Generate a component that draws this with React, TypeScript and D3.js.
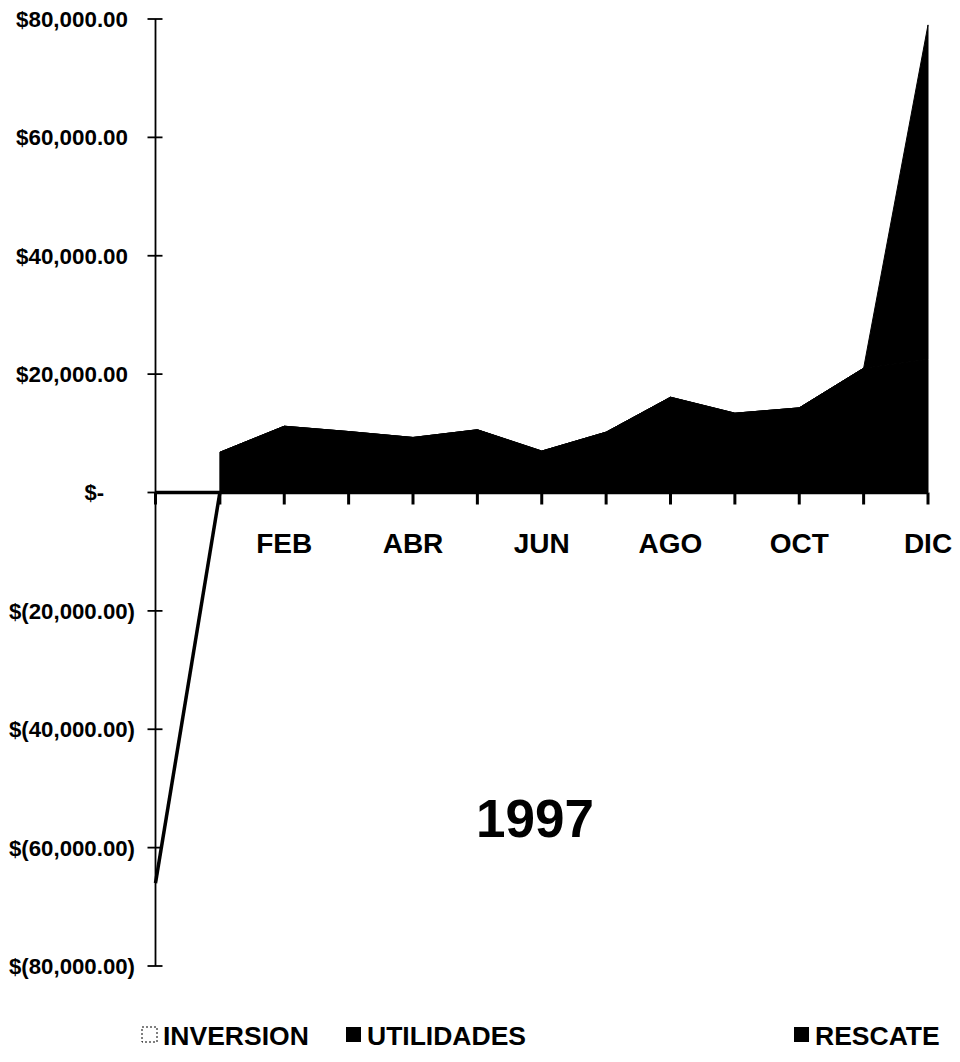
import React from "react";
import * as d3 from "d3";

// months on the category axis; the first slot is the initial investment point
const MONTHS = ["", "ENE", "FEB", "MAR", "ABR", "MAY", "JUN", "JUL", "AGO", "SEP", "OCT", "NOV", "DIC"];
const SHOWN_LABELS = ["FEB", "ABR", "JUN", "AGO", "OCT", "DIC"];

const INVERSION = [-66000, 0, null, null, null, null, null, null, null, null, null, null, null];
const UTILIDADES = [null, 6800, 11200, 10300, 9300, 10600, 7000, 10200, 16100, 13400, 14300, 21000, 22500];
const RESCATE = [null, 0, 0, 0, 0, 0, 0, 0, 0, 0, 0, 0, 56500];

const Y_TICKS = [80000, 60000, 40000, 20000, 0, -20000, -40000, -60000, -80000];
const LEGEND = ["INVERSION", "UTILIDADES", "RESCATE"];

const W = 960, H = 1062;
const FONT = "'Liberation Sans', Arial, sans-serif";

const fmtMoney = (v: number) => {
  if (v === 0) return "$-";
  const s = d3.format(",.2f")(Math.abs(v));
  return v < 0 ? "$(" + s + ")" : "$" + s;
};

const App = () => {
  const ref = React.useRef<SVGSVGElement>(null);

  React.useEffect(() => {
    const svg = d3.select(ref.current);
    svg.selectAll("*").remove();

    const x = d3.scalePoint().domain(MONTHS).range([155.5, 928]);
    const y = d3.scaleLinear().domain([-80000, 80000]).range([966, 19]);

    const g = svg.append("g");

    // INVERSION: white area, outlined by its value line
    const invArea = d3.area<any>()
      .defined((d) => d != null)
      .x((d, i) => x(MONTHS[i]) as number)
      .y0(y(0))
      .y1((d) => y(d));
    g.append("path")
      .datum(INVERSION)
      .attr("d", invArea as any)
      .attr("fill", "#fff");
    const invLine = d3.line<any>()
      .defined((d) => d != null)
      .x((d, i) => x(MONTHS[i]) as number)
      .y((d) => y(d));
    g.append("path")
      .datum(INVERSION)
      .attr("d", invLine as any)
      .attr("fill", "none")
      .attr("stroke", "#000")
      .attr("stroke-width", 3.5);

    // UTILIDADES
    const utilArea = d3.area<any>()
      .defined((d) => d != null)
      .x((d, i) => x(MONTHS[i]) as number)
      .y0(y(0))
      .y1((d) => y(d));
    g.append("path")
      .datum(UTILIDADES)
      .attr("d", utilArea as any)
      .attr("fill", "#000")
      .attr("stroke", "#000")
      .attr("stroke-width", 1);

    // RESCATE stacked on UTILIDADES
    const stacked = RESCATE.map((r, i) => (r == null ? null : [UTILIDADES[i] as number, (UTILIDADES[i] as number) + r]));
    const resArea = d3.area<any>()
      .defined((d) => d != null)
      .x((d, i) => x(MONTHS[i]) as number)
      .y0((d) => y(d[0]))
      .y1((d) => y(d[1]));
    g.append("path")
      .datum(stacked)
      .attr("d", resArea as any)
      .attr("fill", "#000")
      .attr("stroke", "#000")
      .attr("stroke-width", 1);

    // y axis
    const x0 = x(MONTHS[0]) as number;
    g.append("line")
      .attr("x1", x0).attr("x2", x0)
      .attr("y1", y(80000)).attr("y2", y(-80000))
      .attr("stroke", "#000").attr("stroke-width", 1.8);
    Y_TICKS.forEach((t) => {
      g.append("line")
        .attr("x1", x0 - 8).attr("x2", x0 + 7)
        .attr("y1", y(t)).attr("y2", y(t))
        .attr("stroke", "#000").attr("stroke-width", 1.8);
      const label = fmtMoney(t);
      const txt = g.append("text")
        .attr("x", t === 0 ? 104 : t > 0 ? 128 : 135)
        .attr("y", y(t))
        .attr("dy", "0.36em")
        .attr("text-anchor", "end")
        .attr("font-family", FONT)
        .attr("font-weight", "bold")
        .attr("font-size", 22)
        .text(label);
      if (t !== 0) txt.attr("textLength", t > 0 ? 112 : 126).attr("lengthAdjust", "spacingAndGlyphs");
    });

    // x axis
    g.append("line")
      .attr("x1", x0).attr("x2", x(MONTHS[12]) as number)
      .attr("y1", y(0)).attr("y2", y(0))
      .attr("stroke", "#000").attr("stroke-width", 3.5);
    MONTHS.forEach((m) => {
      const xi = x(m) as number;
      g.append("line")
        .attr("x1", xi).attr("x2", xi)
        .attr("y1", y(0)).attr("y2", y(0) + 12)
        .attr("stroke", "#000").attr("stroke-width", 3);
    });
    SHOWN_LABELS.forEach((m) => {
      g.append("text")
        .attr("x", x(m) as number)
        .attr("y", 553)
        .attr("text-anchor", "middle")
        .attr("font-family", FONT)
        .attr("font-weight", "bold")
        .attr("font-size", 28)
        .text(m);
    });

    // year label
    g.append("text")
      .attr("x", 535)
      .attr("y", 837)
      .attr("text-anchor", "middle")
      .attr("font-family", FONT)
      .attr("font-weight", "bold")
      .attr("font-size", 53)
      .text("1997");

    // legend
    const legendX = [163, 367, 815];
    LEGEND.forEach((name, i) => {
      const lx = legendX[i];
      g.append("rect")
        .attr("x", lx - 21).attr("y", 1027)
        .attr("width", 15).attr("height", 15)
        .attr("fill", i === 0 ? "#fff" : "#000")
        .attr("stroke", "#000")
        .attr("stroke-width", i === 0 ? 1 : 0)
        .attr("stroke-dasharray", i === 0 ? "2,2" : null);
      g.append("text")
        .attr("x", lx)
        .attr("y", 1045)
        .attr("font-family", FONT)
        .attr("font-weight", "bold")
        .attr("font-size", 26.5)
        .text(name);
    });
  }, []);

  return (
    <svg
      ref={ref}
      width={W}
      height={H}
      style={{ position: "absolute", left: 0, top: 0, background: "#fff" }}
    />
  );
};

export default App;
